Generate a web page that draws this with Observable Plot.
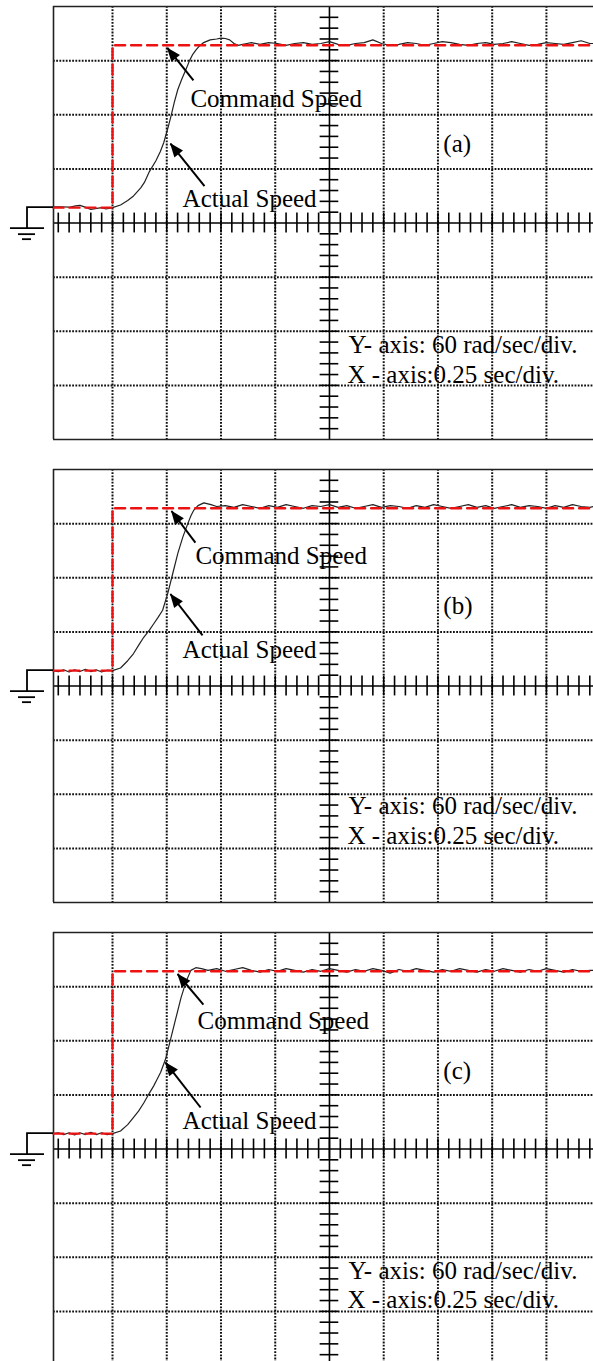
<!DOCTYPE html>
<html>
<head>
<meta charset="utf-8">
<script src="https://cdn.jsdelivr.net/npm/d3@7"></script>
<script src="https://cdn.jsdelivr.net/npm/@observablehq/plot@0.6"></script>
<style>
  html, body { margin: 0; padding: 0; background: #fff; overflow: hidden; }
  #scope { width: 593px; }
  #scope svg { display: block; overflow: visible; }
</style>
</head>
<body>
<div id="scope"></div>
<script>
// Oscilloscope captures of a speed step: 60 rad/s per division, 0.25 s per division.
const SEC_PER_DIV = 0.25;
const RAD_PER_DIV = 60;
const timeDomain = [-0.272, 2.217];   // visible time window (s), step at t = 0
const speedDomain = [-257, 223];      // 8 divisions; channel ground sits 0.3 div above centre
const centreTime = 1.0;
const centreSpeed = -17;
const SERIF = "'Liberation Serif', 'Times New Roman', serif";

// Command speed (step to 180 rad/s), shared by all three captures
const commandTime = [-0.272, 0, 0, 2.217];
const commandSpeed = [0, 0, 180, 180];

// (a) actual speed
const actualTimeA = [-0.272, -0.24, -0.2, -0.17, -0.15, -0.12, -0.1, -0.08, -0.05, -0.03, 0,
  0.037, 0.07, 0.097, 0.13, 0.147, 0.17, 0.2, 0.22, 0.236, 0.255, 0.269, 0.285, 0.301, 0.32, 0.338, 0.355,
  0.37, 0.385, 0.4, 0.42, 0.45, 0.48, 0.5, 0.52, 0.54, 0.56, 0.58, 0.6, 0.62, 0.64,
  0.68, 0.72, 0.76, 0.8, 0.84, 0.88, 0.92, 0.96, 1.0, 1.04, 1.08, 1.12, 1.16, 1.2, 1.24, 1.28,
  1.32, 1.36, 1.4, 1.44, 1.48, 1.52, 1.56, 1.6, 1.64, 1.68, 1.72, 1.76, 1.8, 1.84, 1.88, 1.92,
  1.96, 2.0, 2.04, 2.08, 2.12, 2.16, 2.2, 2.217];
const actualSpeedA = [1, 1, 0.5, 2, 2.5, 0, -2, -1, 0, -1.5, 0,
  3, 8, 13, 22, 28, 40, 52, 62, 72, 88, 101, 117, 131, 143, 153, 163,
  170, 175, 179, 183, 186, 187, 188, 187.5, 186, 182, 180, 181, 182, 183,
  181, 183, 182, 180, 182, 183, 181, 182, 184, 181, 180, 182, 183, 186, 182, 180,
  181, 183, 182, 180, 182, 184, 183, 181, 180, 182, 183, 181, 182, 184, 182, 180,
  181, 183, 182, 181, 183, 185, 182, 182];

// (b) actual speed
const actualTimeB = [-0.272, -0.25, -0.225, -0.2, -0.175, -0.15, -0.125, -0.1, -0.075, -0.05, -0.025, 0,
  0.037, 0.07, 0.097, 0.12, 0.144, 0.17, 0.19, 0.21, 0.231, 0.255, 0.278, 0.301, 0.324, 0.347, 0.362,
  0.375, 0.394, 0.421, 0.454, 0.48,
  0.52, 0.56, 0.6, 0.64, 0.68, 0.72, 0.76, 0.8, 0.84, 0.88, 0.92, 0.96, 1.0, 1.04, 1.08, 1.12,
  1.16, 1.2, 1.24, 1.28, 1.32, 1.36, 1.4, 1.44, 1.48, 1.52, 1.56, 1.6, 1.64, 1.68, 1.72, 1.76,
  1.8, 1.84, 1.88, 1.92, 1.96, 2.0, 2.04, 2.08, 2.12, 2.16, 2.2, 2.217];
const actualSpeedB = [0, -1, 1, -1.5, 1, -1, 1.5, -1, 1, -1.5, 0.5, 0,
  3, 11, 19, 28, 37, 45, 52, 59, 67, 86, 108, 130, 148, 163, 172,
  178, 183, 186, 184, 182,
  183, 181, 184, 182, 180, 183, 181, 184, 182, 180, 183, 182, 184, 181, 183, 180,
  182, 184, 181, 183, 182, 180, 183, 181, 184, 182, 180, 182, 184, 181, 183, 180,
  182, 184, 181, 183, 182, 180, 183, 181, 184, 182, 181, 182];

// (c) actual speed
const actualTimeC = [-0.272, -0.25, -0.225, -0.2, -0.175, -0.15, -0.125, -0.1, -0.075, -0.05, -0.025, 0,
  0.037, 0.07, 0.097, 0.12, 0.144, 0.17, 0.19, 0.205, 0.222, 0.245, 0.269, 0.292, 0.315, 0.338, 0.361,
  0.384, 0.41, 0.44,
  0.48, 0.52, 0.56, 0.6, 0.64, 0.68, 0.72, 0.76, 0.8, 0.84, 0.88, 0.92, 0.96, 1.0, 1.04, 1.08, 1.12,
  1.16, 1.2, 1.24, 1.28, 1.32, 1.36, 1.4, 1.44, 1.48, 1.52, 1.56, 1.6, 1.64, 1.68, 1.72, 1.76,
  1.8, 1.84, 1.88, 1.92, 1.96, 2.0, 2.04, 2.08, 2.12, 2.16, 2.2, 2.217];
const actualSpeedC = [0, 1, -1, 1, -1.5, 1, -1, 1.5, -1, 1, -1, 0,
  3, 10, 18, 25, 34, 45, 53, 60, 68, 83, 106, 128, 150, 168, 181,
  184, 183, 181,
  183, 180, 182, 184, 181, 179, 182, 180, 183, 181, 179, 182, 180, 183, 181, 179, 182,
  180, 183, 181, 178, 182, 180, 183, 181, 179, 182, 180, 183, 181, 179, 182, 180,
  183, 181, 179, 182, 180, 183, 181, 179, 182, 180, 181, 181];

// Annotation arrows (tail -> tip), in data units
const arrowsA = [
  {t1: 0.373, s1: 141, t2: 0.253, s2: 177},
  {t1: 0.424, s1: 24, t2: 0.267, s2: 71}
];
const arrowsB = [
  {t1: 0.382, s1: 142, t2: 0.272, s2: 177},
  {t1: 0.415, s1: 39, t2: 0.267, s2: 85}
];
const arrowsC = [
  {t1: 0.419, s1: 143, t2: 0.300, s2: 177},
  {t1: 0.406, s1: 29, t2: 0.244, s2: 79}
];

// Label anchors (left edge of each label), in data units
const labelsA = [
  {text: "Command Speed", t: 0.359, s: 121},
  {text: "Actual Speed", t: 0.323, s: 10},
  {text: "(a)", t: 1.525, s: 71},
  {text: "Y- axis: 60 rad/sec/div.", t: 1.088, s: -152},
  {text: "X - axis:0.25 sec/div.", t: 1.083, s: -185}
];
const labelsB = [
  {text: "Command Speed", t: 0.382, s: 127},
  {text: "Actual Speed", t: 0.323, s: 23},
  {text: "(b)", t: 1.525, s: 72},
  {text: "Y- axis: 60 rad/sec/div.", t: 1.088, s: -150},
  {text: "X - axis:0.25 sec/div.", t: 1.083, s: -183}
];
const labelsC = [
  {text: "Command Speed", t: 0.392, s: 125},
  {text: "Actual Speed", t: 0.323, s: 14},
  {text: "(c)", t: 1.525, s: 70},
  {text: "Y- axis: 60 rad/sec/div.", t: 1.088, s: -152},
  {text: "X - axis:0.25 sec/div.", t: 1.083, s: -184}
];

// Graticule: major divisions and the 1/5-division marks on the centre axes
const gridTimes = d3.range(0, 9).map(k => k * SEC_PER_DIV).filter(t => Math.abs(t - centreTime) > 1e-9);
const gridSpeeds = d3.range(-3, 4).filter(k => k !== 0).map(k => centreSpeed + k * RAD_PER_DIV);
const minorTimes = d3.range(-5, 45).map(k => k * SEC_PER_DIV / 5);
const minorSpeeds = d3.range(-19, 20).filter(k => k !== 0).map(k => centreSpeed + k * RAD_PER_DIV / 5);

const rows = (ts, ss) => ts.map((t, i) => ({t, s: ss[i]}));

// Filled arrowheads and the ground-reference symbol, placed through the plot's scales
function arrowHeads(arrows) {
  return (index, scales) => {
    const {x, y} = scales;
    const g = d3.create("svg:g");
    for (const a of arrows) {
      const x1 = x(a.t1), y1 = y(a.s1), x2 = x(a.t2), y2 = y(a.s2);
      const len = Math.hypot(x2 - x1, y2 - y1);
      const ux = (x2 - x1) / len, uy = (y2 - y1) / len;
      const L = 14, W = 11;
      const bx = x2 - ux * L, by = y2 - uy * L;
      g.append("path")
        .attr("d", `M${x2},${y2}L${bx - uy * W / 2},${by + ux * W / 2}L${bx + uy * W / 2},${by - ux * W / 2}Z`)
        .attr("fill", "#000");
    }
    return g.node();
  };
}

function groundSymbol() {
  return (index, scales) => {
    const {x, y} = scales;
    const x0 = x(timeDomain[0]), y0 = y(0);
    const g = d3.create("svg:g").attr("fill", "none").attr("stroke", "#000").attr("stroke-width", 1.8);
    g.append("path").attr("d", `M${x0},${y0}H${x0 - 26}V${y0 + 21}`);
    g.append("path").attr("d", `M${x0 - 43},${y0 + 21}H${x0 - 9}`);
    g.append("path").attr("d", `M${x0 - 35},${y0 + 27}H${x0 - 18}`);
    g.append("path").attr("d", `M${x0 - 31},${y0 + 32}H${x0 - 22}`);
    return g.node();
  };
}

function capture(actualT, actualS, arrows, labels) {
  const tickHalfS = 11;     // rad/s
  const tickHalfT = 0.043;  // s
  const dotted = {stroke: "#111", strokeWidth: 2, strokeDasharray: "1.8,1.4"};
  return Plot.plot({
    width: 593,
    height: 463,
    marginTop: 6,
    marginBottom: 24,
    marginLeft: 53,
    marginRight: 0,
    x: {domain: timeDomain, axis: null},
    y: {domain: speedDomain, axis: null},
    style: `background: #fff; font-family: ${SERIF};`,
    marks: [
      // dotted graticule
      Plot.ruleX(gridTimes, dotted),
      Plot.ruleY(gridSpeeds, {x1: timeDomain[0], x2: timeDomain[1], ...dotted}),
      // centre axes with 1/5-division marks
      Plot.ruleY([centreSpeed], {x1: timeDomain[0], x2: timeDomain[1], stroke: "#000", strokeWidth: 1.6}),
      Plot.ruleX([centreTime], {stroke: "#000", strokeWidth: 1.6}),
      Plot.ruleX(minorTimes, {y1: centreSpeed - tickHalfS, y2: centreSpeed + tickHalfS, stroke: "#000", strokeWidth: 1.6}),
      Plot.ruleY(minorSpeeds, {x1: centreTime - tickHalfT, x2: centreTime + tickHalfT, stroke: "#000", strokeWidth: 1.6}),
      // screen border (left, top, bottom)
      Plot.ruleX([timeDomain[0]], {stroke: "#222", strokeWidth: 1.6}),
      Plot.ruleY([speedDomain[0], speedDomain[1]], {x1: timeDomain[0], x2: timeDomain[1], stroke: "#222", strokeWidth: 1.6}),
      // traces
      Plot.line(rows(actualT, actualS), {x: "t", y: "s", stroke: "#222", strokeWidth: 1.2}),
      Plot.line(rows(commandTime, commandSpeed), {x: "t", y: "s", stroke: "#ee1111", strokeWidth: 2.4, strokeDasharray: "10,6"}),
      // annotations
      Plot.link(arrows, {x1: "t1", y1: "s1", x2: "t2", y2: "s2", stroke: "#000", strokeWidth: 2}),
      arrowHeads(arrows),
      groundSymbol(),
      Plot.text(labels, {x: "t", y: "s", text: "text", textAnchor: "start", fontSize: 25, fontFamily: SERIF, fill: "#000"})
    ]
  });
}

const host = document.getElementById("scope");
host.append(capture(actualTimeA, actualSpeedA, arrowsA, labelsA));
host.append(capture(actualTimeB, actualSpeedB, arrowsB, labelsB));
host.append(capture(actualTimeC, actualSpeedC, arrowsC, labelsC));
</script>
</body>
</html>
